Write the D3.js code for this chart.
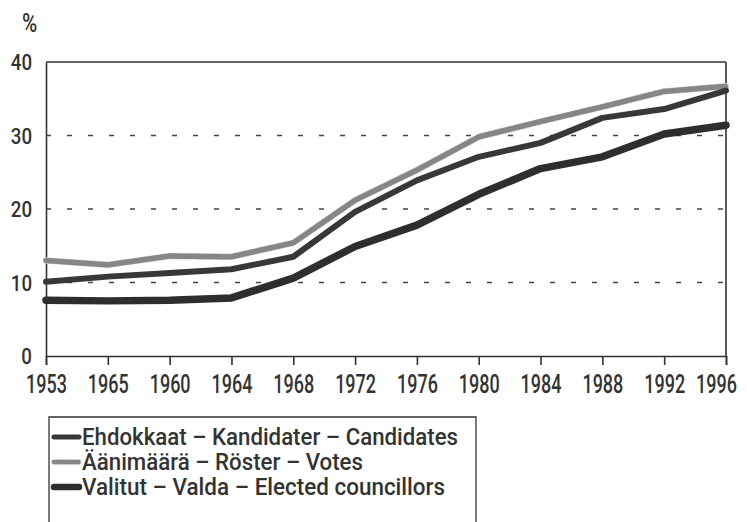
<!DOCTYPE html>
<html>
<head>
<meta charset="utf-8">
<script src="https://cdn.jsdelivr.net/npm/d3@7"></script>
<style>
  html, body { margin: 0; padding: 0; background: #fff; }
  svg { display: block; }
  text { font-family: Roboto, "DejaVu Sans", sans-serif; font-weight: 500; fill: #333; }
</style>
</head>
<body>
<div id="chart"></div>
<script>
// vaalivuodet (kuvan mukaiset nimiöt)
const years = ['1953', '1965', '1960', '1964', '1968', '1972', '1976', '1980', '1984', '1988', '1992', '1996'];

// naisten osuus, %
const candidates = [10.1, 10.8, 11.3, 11.8, 13.5, 19.6, 23.9, 27.1, 29.0, 32.4, 33.6, 36.1];
const votes = [13.0, 12.4, 13.6, 13.5, 15.4, 21.2, 25.3, 29.8, 31.9, 33.9, 36.0, 36.7];
const elected = [7.6, 7.5, 7.6, 7.9, 10.6, 14.9, 17.8, 22.0, 25.5, 27.1, 30.2, 31.4];

const yTicks = [0, 10, 20, 30, 40];
const gridValues = [10, 20, 30];

const legendLabels = [
    'Ehdokkaat – Kandidater – Candidates',
    'Äänimäärä – Röster – Votes',
    'Valitut – Valda – Elected councillors'
];

const W = 747, H = 522;
const margin = { left: 46, right: 21, top: 62, bottom: 166 };
const plotW = W - margin.left - margin.right;
const plotH = H - margin.top - margin.bottom;

// kapea kirjasin: puristetaan tekstiä vaakasuunnassa
function squeeze(sel, ratio) {
    sel.each(function () {
        const w = this.getComputedTextLength();
        d3.select(this)
            .attr('textLength', w * ratio)
            .attr('lengthAdjust', 'spacingAndGlyphs');
    });
}

const svg = d3.select('#chart').append('svg')
    .attr('width', W)
    .attr('height', H);

const g = svg.append('g')
    .attr('transform', `translate(${margin.left},${margin.top})`);

const x = d3.scalePoint()
    .domain(years)
    .range([0, plotW]);

const y = d3.scaleLinear()
    .domain([0, 40])
    .range([plotH, 0]);

// katkoviivaiset apuviivat
g.selectAll('.grid')
    .data(gridValues)
    .join('line')
    .attr('class', 'grid')
    .attr('x1', 0)
    .attr('x2', plotW)
    .attr('y1', d => y(d))
    .attr('y2', d => y(d))
    .attr('stroke', '#444')
    .attr('stroke-width', 1.3)
    .attr('stroke-dasharray', '5 16');

// kehys ylhäällä ja oikealla
g.append('line')
    .attr('x1', 0).attr('x2', plotW)
    .attr('y1', 0).attr('y2', 0)
    .attr('stroke', '#333').attr('stroke-width', 1.6);
g.append('line')
    .attr('x1', plotW).attr('x2', plotW)
    .attr('y1', 0).attr('y2', plotH)
    .attr('stroke', '#333').attr('stroke-width', 1.6);

// x-akseli
const xAxis = g.append('g')
    .attr('transform', `translate(0,${plotH})`)
    .call(d3.axisBottom(x).tickSize(9));
xAxis.select('.domain').attr('stroke', '#333').attr('stroke-width', 1.6);
xAxis.selectAll('.tick line').attr('stroke', '#333').attr('stroke-width', 1.6);
xAxis.selectAll('.tick text')
    .attr('y', 37)
    .attr('dy', null)
    .attr('x', d => d === years[years.length - 1] ? -10 : 0)
    .style('font-size', '25px')
    .style('font-weight', 500)
    .style('fill', '#333')
    .style('font-family', 'Roboto, sans-serif')
    .call(squeeze, 0.72);

// y-akseli
const yAxis = g.append('g')
    .call(d3.axisLeft(y).tickValues(yTicks).tickSize(0).tickPadding(14));
yAxis.select('.domain').attr('stroke', '#333').attr('stroke-width', 1.6);
yAxis.selectAll('.tick text')
    .attr('dy', '0.36em')
    .style('font-size', '22px')
    .style('font-weight', 500)
    .style('fill', '#333')
    .style('font-family', 'Roboto, sans-serif')
    .call(squeeze, 0.85);

g.append('text')
    .attr('x', -24)
    .attr('y', -30)
    .style('font-size', '26px')
    .text('%')
    .call(squeeze, 0.8);

const line = d3.line()
    .x((d, i) => x(years[i]))
    .y(d => y(d));

// viivatyylit
const styles = [
    { data: candidates, layers: [{ stroke: '#383838', width: 6 }] },
    { data: votes, layers: [{ stroke: '#d6d6d6', width: 6.5 }, { stroke: '#868686', width: 5.5, dash: '1 1.6' }] },
    { data: elected, layers: [{ stroke: '#2e2e2e', width: 7.5 }] }
];

// piirretään äänet ensin, sitten ehdokkaat ja valitut
[1, 0, 2].forEach(idx => {
    const s = styles[idx];
    s.layers.forEach(l => {
        g.append('path')
            .datum(s.data)
            .attr('d', line)
            .attr('fill', 'none')
            .attr('stroke', l.stroke)
            .attr('stroke-width', l.width)
            .attr('stroke-linejoin', 'round')
            .attr('stroke-linecap', 'round')
            .attr('stroke-dasharray', l.dash || null);
    });
});

// selite
const legend = svg.append('g').attr('class', 'legend');
legend.append('path')
    .attr('d', `M49,${H + 2} V417 H476 V${H + 2}`)
    .attr('fill', 'none')
    .attr('stroke', '#333')
    .attr('stroke-width', 1.3);

const legendWidths = [376, 281, 363];

legendLabels.forEach((label, i) => {
    const ly = 437 + i * 25;
    const s = styles[i];
    s.layers.forEach(l => {
        legend.append('line')
            .attr('x1', 54).attr('x2', 79)
            .attr('y1', ly).attr('y2', ly)
            .attr('stroke', l.stroke)
            .attr('stroke-width', l.width - 1)
            .attr('stroke-linecap', 'round')
            .attr('stroke-dasharray', l.dash || null);
    });
    legend.append('text')
        .attr('x', 82)
        .attr('y', ly + 8)
        .style('font-size', '23px')
        .attr('textLength', legendWidths[i])
        .attr('lengthAdjust', 'spacingAndGlyphs')
        .text(label);
});
</script>
</body>
</html>
